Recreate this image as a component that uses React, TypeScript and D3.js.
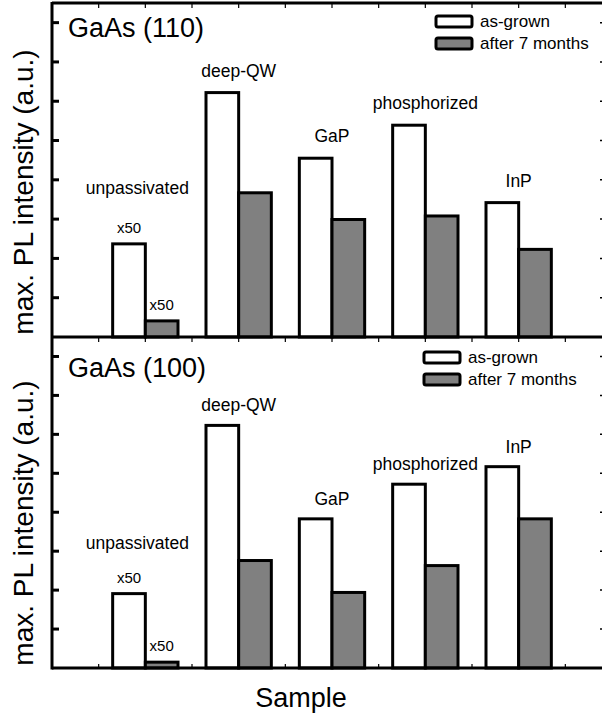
import React, { useEffect, useRef } from 'react';
import * as d3 from 'd3';

const categories = ["unpassivated", "deep-QW", "GaP", "phosphorized", "InP"];
const panelTitles = ["GaAs (110)", "GaAs (100)"];
const seriesNames = ["as-grown", "after 7 months"];
// values in units of one y tick
const asGrown110 = [2.37, 6.22, 4.55, 5.39, 3.42];
const after110 = [0.41, 3.67, 2.99, 3.08, 2.23];
const asGrown100 = [1.91, 6.23, 3.83, 4.72, 5.17];
const after100 = [0.15, 2.76, 1.94, 2.63, 3.83];
const scaleNote = "x50";
const yTicks = [1, 2, 3, 4, 5, 6, 7, 8];
const xTicks = [0, 1, 2, 3, 4, 5, 6, 7, 8, 9, 10, 11, 12];
const groupPos = [2, 4, 6, 8, 10];

const FONT = "'Liberation Sans', Arial, Helvetica, sans-serif";

const App: React.FC = () => {
  const svgRef = useRef<SVGSVGElement>(null);

  useEffect(() => {
    if (!svgRef.current) return;
    const svg = d3.select(svgRef.current);
    svg.selectAll("*").remove();

    const x = d3.scaleLinear().domain([0, 12]).range([52, 612]);
    const barW = x(0.7) - x(0);

    const panels = [
      { title: panelTitles[0], a: asGrown110, b: after110, top: 3, bottom: 337, legX: 436, legY: 16, labelGap: 16, unpassGap: 50, yLabel: 192, titleY: 37 },
      { title: panelTitles[1], a: asGrown100, b: after100, top: 337, bottom: 668, legX: 424, legY: 352, labelGap: 14, unpassGap: 45, yLabel: 523, titleY: 377 },
    ];

    panels.forEach(p => {
      const y = d3.scaleLinear().domain([0, 8.5]).range([p.bottom, p.top]);
      const g = svg.append("g");

      // bars
      const rows = categories.map((c, i) => ({ c, i, a: p.a[i], b: p.b[i] }));
      g.selectAll("rect.asgrown")
        .data(rows)
        .enter().append("rect")
        .attr("x", d => x(groupPos[d.i]) - barW)
        .attr("y", d => y(d.a))
        .attr("width", barW)
        .attr("height", d => y(0) - y(d.a))
        .attr("fill", "white")
        .attr("stroke", "black")
        .attr("stroke-width", 3);
      g.selectAll("rect.after")
        .data(rows)
        .enter().append("rect")
        .attr("x", d => x(groupPos[d.i]))
        .attr("y", d => y(d.b))
        .attr("width", barW)
        .attr("height", d => y(0) - y(d.b))
        .attr("fill", "#808080")
        .attr("stroke", "black")
        .attr("stroke-width", 3);

      // category labels
      g.selectAll("text.cat")
        .data(rows)
        .enter().append("text")
        .attr("x", d => x(groupPos[d.i]) - (d.i === 0 ? 8 : 0))
        .attr("y", d => d.i === 0 ? y(d.a) - p.unpassGap : y(Math.max(d.a, d.b)) - p.labelGap)
        .attr("text-anchor", "middle")
        .attr("font-family", FONT)
        .attr("font-size", 17.5)
        .text(d => d.c);

      // x50 notes on unpassivated
      [p.a[0], p.b[0]].forEach((v, k) => {
        g.append("text")
          .attr("x", x(groupPos[0]) + (k === 0 ? -barW / 2 : barW / 2))
          .attr("y", y(v) - 11)
          .attr("text-anchor", "middle")
          .attr("font-family", FONT)
          .attr("font-size", 15)
          .text(scaleNote);
      });

      // y ticks left/right
      g.selectAll("line.yl")
        .data(yTicks)
        .enter().append("line")
        .attr("x1", 52).attr("x2", 59)
        .attr("y1", d => y(d)).attr("y2", d => y(d))
        .attr("stroke", "black").attr("stroke-width", 3);
      g.selectAll("line.yr")
        .data(yTicks)
        .enter().append("line")
        .attr("x1", 600).attr("x2", 612)
        .attr("y1", d => y(d)).attr("y2", d => y(d))
        .attr("stroke", "black").attr("stroke-width", 1.5);

      // top ticks (inward)
      g.selectAll("line.xt")
        .data(xTicks)
        .enter().append("line")
        .attr("x1", d => x(d)).attr("x2", d => x(d))
        .attr("y1", p.top).attr("y2", p.top + 5)
        .attr("stroke", "black").attr("stroke-width", 1.2);

      // title
      g.append("text")
        .attr("x", 68)
        .attr("y", p.titleY)
        .attr("font-family", FONT)
        .attr("font-size", 27)
        .text(p.title);

      // legend
      seriesNames.forEach((s, k) => {
        const ly = p.legY + k * 22;
        g.append("rect")
          .attr("x", p.legX).attr("y", ly)
          .attr("width", 36).attr("height", 11)
          .attr("rx", 2)
          .attr("fill", k === 0 ? "white" : "#808080")
          .attr("stroke", "black").attr("stroke-width", 3);
        g.append("text")
          .attr("x", p.legX + 44).attr("y", ly + 11)
          .attr("font-family", FONT)
          .attr("font-size", 17)
          .text(s);
      });

      // y label
      g.append("text")
        .attr("transform", `translate(33,${p.yLabel}) rotate(-90)`)
        .attr("text-anchor", "middle")
        .attr("font-family", FONT)
        .attr("font-size", 28)
        .text("max. PL intensity (a.u.)");
    });

    // bottom ticks
    svg.selectAll("line.xb")
      .data(xTicks)
      .enter().append("line")
      .attr("x1", d => x(d)).attr("x2", d => x(d))
      .attr("y1", 668).attr("y2", 664)
      .attr("stroke", "black").attr("stroke-width", 1.2);

    // frame lines
    const frame = [
      [52, 3, 612, 3],
      [52, 337, 612, 337],
      [52, 668, 612, 668],
      [52, 2, 52, 669.5],
    ];
    svg.selectAll("line.frame")
      .data(frame)
      .enter().append("line")
      .attr("x1", d => d[0]).attr("y1", d => d[1])
      .attr("x2", d => d[2]).attr("y2", d => d[3])
      .attr("stroke", "black").attr("stroke-width", 3);

    svg.append("text")
      .attr("x", 301)
      .attr("y", 707)
      .attr("text-anchor", "middle")
      .attr("font-family", FONT)
      .attr("font-size", 27)
      .text("Sample");
  }, []);

  return (
    <div style={{ position: 'absolute', left: 0, top: 0 }}>
      <svg ref={svgRef} width={602} height={720} style={{ display: 'block', background: 'white' }}></svg>
    </div>
  );
};

export default App;
